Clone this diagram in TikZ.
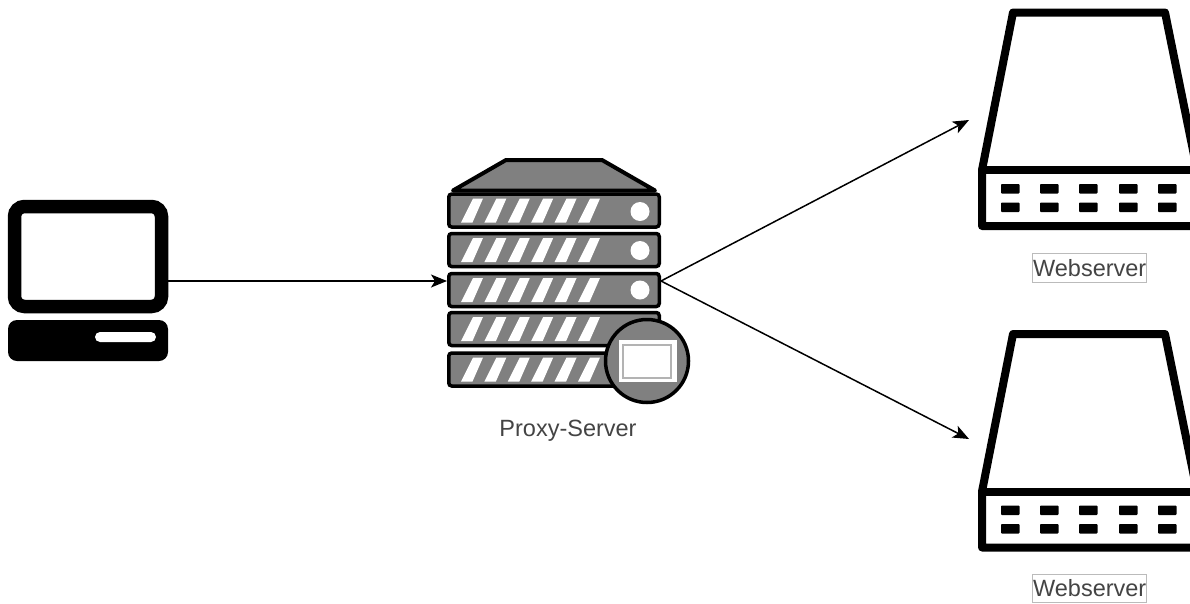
\documentclass[tikz,border=0pt]{standalone}
\usepackage{fontspec}
\setmainfont{Liberation Sans}
\usetikzlibrary{arrows.meta}
\definecolor{rackgrey}{HTML}{808080}
\definecolor{labelgrey}{HTML}{444444}
\definecolor{framegrey}{HTML}{BBBBBB}
\tikzset{
  rack/.style={rectangle,draw=black,fill=rackgrey,line width=3.5pt,rounded corners=3pt,minimum width=210.5pt,minimum height=33pt,inner sep=0pt,outer sep=1.75pt},
  stripe/.style={fill=white,draw=none},
  heavy/.style={draw=black,line width=8pt,line join=round},
  pad/.style={fill=black,draw=none,rounded corners=0.8pt},
  link/.style={draw=black,line width=1.5pt,-{Stealth[length=16pt,width=13pt,inset=4pt]}},
  caption/.style={text=labelgrey,font=\fontsize{23.5pt}{26pt}\selectfont,inner sep=0pt},
  webcaption/.style={caption,draw=framegrey,line width=0.8pt,minimum width=114pt,minimum height=28.5pt}
}
\newcommand{\webicon}[1]{%
  \begin{scope}[yshift=-#1pt]
    \draw[heavy] (982,170) -- (1013,12.5) -- (1165,12.5) -- (1197,170) -- (1197,226) -- (982,226) -- cycle;
    \draw[heavy] (982,170) -- (1197,170);
    \foreach \px in {1001,1040,1079,1119,1158}{
      \fill[pad] (\px,184) rectangle ++(18.5,9.5);
      \fill[pad] (\px,202.5) rectangle ++(18.5,9.5);
    }
  \end{scope}}
\begin{document}
\begin{tikzpicture}[x=1pt,y=-1pt]
\useasboundingbox (0,0) rectangle (1190,603);
\clip (0,0) rectangle (1190,603);
\fill[white] (0,0) rectangle (1190,603);

% computer
\node[rectangle,draw=black,fill=white,line width=13.5pt,rounded corners=10pt,minimum width=147pt,minimum height=100pt,inner sep=0pt,outer sep=6.75pt] (pc) at (88,256.5) {};
\fill[black,rounded corners=9pt] (8,320) rectangle (168,361);
\fill[white,rounded corners=5pt] (95,332) rectangle (156,342);

% proxy server
\draw[fill=rackgrey,line width=4pt,line join=round] (453,190.5) -- (506,160) -- (602,160) -- (655,190.5) -- cycle;
\foreach \n/\cy in {1/210.5,2/250,3/290,4/329,5/369.5}{
  \node[rack] (rack\n) at (554,\cy) {};
  \foreach \k in {0,...,5}{
    \fill[stripe] ({461+23.4*\k},\cy+12) -- ({472.5+23.4*\k},\cy+12) -- ({483+23.4*\k},\cy-12) -- ({473+23.4*\k},\cy-12) -- cycle;
  }
}
\foreach \cy in {211.5,250.5,290}{ \fill[white] (640,\cy) circle (9.5); }
\draw[fill=rackgrey,line width=3.5pt] (647,361) circle (41.5);
\fill[white] (618.5,340) rectangle (676.5,382);
\draw[draw=rackgrey!60,line width=2pt] (623,345) rectangle (671,377.5);

% web servers
\webicon{0}
\webicon{321.5}
\coordinate (webtop) at (969,120);
\coordinate (webbot) at (969,439);
\coordinate (proxyin) at (rack3.west |- 0,281);
\coordinate (proxyout) at (rack3.east |- 0,281);
\coordinate (pcout) at (pc.east |- 0,281);

% connectors
\draw[link] (pcout) -- (proxyin);
\draw[link] (proxyout) -- (webtop);
\draw[link] (proxyout) -- (webbot);

% labels
\node[caption] (proxylabel) at (568,430.5) {Proxy-Server};
\node[webcaption] (web1label) at (1089.7,268) {Webserver};
\node[webcaption] (web2label) at (1089.7,588.5) {Webserver};
\end{tikzpicture}
\end{document}
